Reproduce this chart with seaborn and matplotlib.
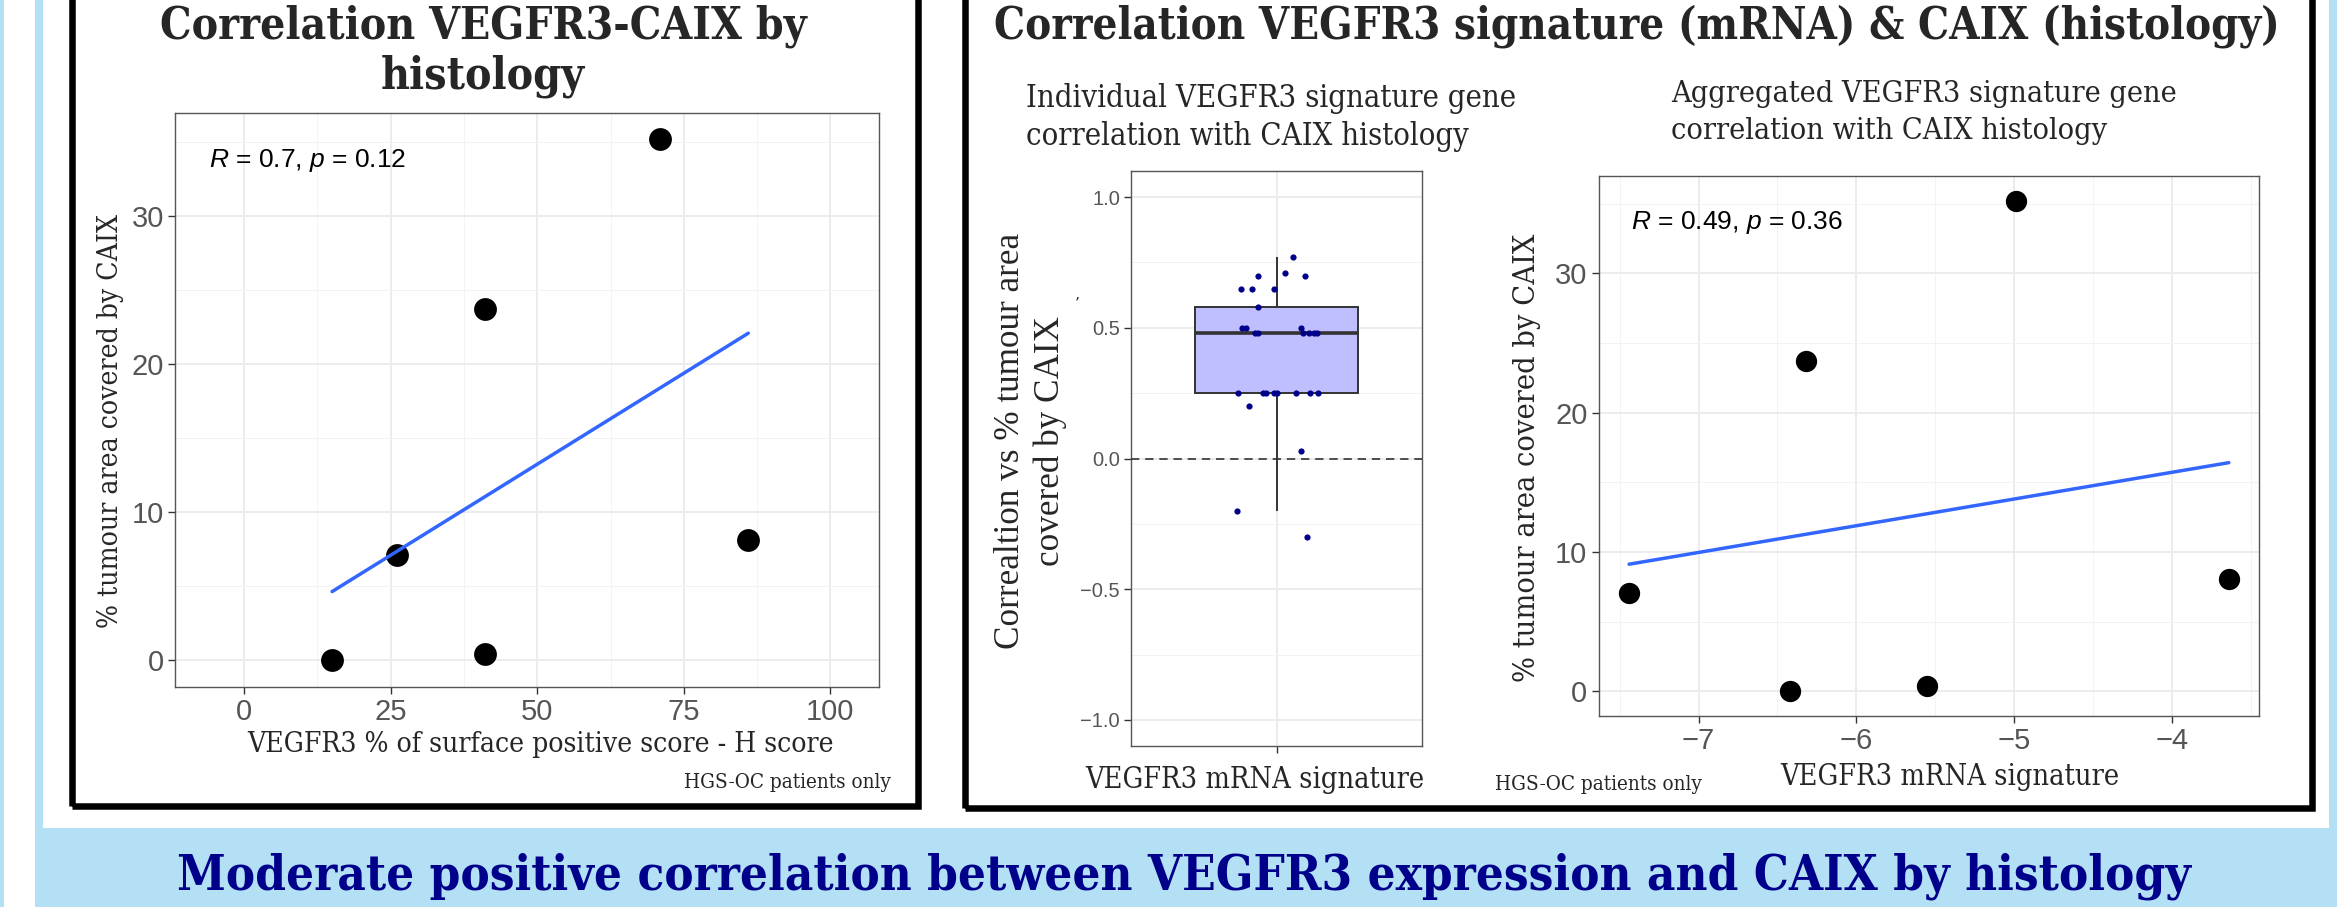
import numpy as np
import pandas as pd
import matplotlib
matplotlib.use("Agg")
import matplotlib.pyplot as plt
from matplotlib.patches import Rectangle
from matplotlib.ticker import FixedLocator
import seaborn as sns

# ---------------- data ----------------
h_score = [15, 26, 41, 41, 71, 86]
caix_area = [0.0, 7.1, 23.7, 0.4, 35.2, 8.1]
mrna_signature = [-6.42, -7.44, -6.32, -5.55, -4.99, -3.64]

gene_corr = [0.77, 0.71, 0.70, 0.70, 0.65, 0.65, 0.65, 0.58, 0.50, 0.50,
             0.48, 0.48, 0.50, 0.48, 0.48, 0.48, 0.48, 0.25, 0.25, 0.25,
             0.25, 0.25, 0.25, 0.25, 0.25, 0.20, 0.03, -0.20, -0.30]
gene_jitter = [0.066, 0.035, -0.078, 0.118, -0.146, -0.103, -0.010, -0.078,
               -0.144, -0.125, -0.088, -0.077, 0.103, 0.110, 0.136, 0.153,
               0.169, -0.158, -0.054, -0.042, -0.010, 0.004, 0.081, 0.139,
               0.172, -0.112, 0.100, -0.161, 0.127]

left_xticks = [0, 25, 50, 75, 100]
right_xticks = [-7, -6, -5, -4]
caix_yticks = [0, 10, 20, 30]
corr_yticks = [-1.0, -0.5, 0.0, 0.5, 1.0]

title_left = ["Correlation VEGFR3-CAIX by", "histology"]
title_right = "Correlation VEGFR3 signature (mRNA) & CAIX (histology)"
sub_mid = ["Individual VEGFR3 signature gene", "correlation with CAIX histology"]
sub_right = ["Aggregated VEGFR3 signature gene", "correlation with CAIX histology"]
xlab_left = "VEGFR3 % of surface positive score - H score"
ylab_caix = "% tumour area covered by CAIX"
xlab_sig = "VEGFR3 mRNA signature"
ylab_mid = ["Correaltion vs % tumour area", "covered by CAIX"]
stat_left = r"$R$ = 0.7, $p$ = 0.12"
stat_right = r"$R$ = 0.49, $p$ = 0.36"
note = "HGS-OC patients only"
conclusion = "Moderate positive correlation between VEGFR3 expression and CAIX by histology"

# ---------------- style ----------------
sns.set_theme(style="white")
plt.rcParams["font.family"] = ["Liberation Sans", "DejaVu Sans"]
plt.rcParams["mathtext.fontset"] = "custom"
plt.rcParams["mathtext.rm"] = "Liberation Sans"
plt.rcParams["mathtext.it"] = "Liberation Sans:italic"

W, H, DPI = 2345, 907, 100
LIGHT_BLUE = "#B3E0F5"
NAVY = "#00008B"
fig = plt.figure(figsize=(W / DPI, H / DPI), dpi=DPI, facecolor="white")
renderer = fig.canvas.get_renderer()


def axes_px(l, t, r, b):
    return fig.add_axes([l / W, 1 - b / H, (r - l) / W, (b - t) / H])


def rect_px(x0, y0, x1, y1, **kw):
    fig.add_artist(Rectangle((x0 / W, 1 - y1 / H), (x1 - x0) / W, (y1 - y0) / H,
                             transform=fig.transFigure, **kw))


def ftext(x, y, s, width=None, size=20, rot=0, **kw):
    t = fig.text(x / W, 1 - y / H, s, fontsize=size, rotation=rot, **kw)
    if width is not None:
        bb = t.get_window_extent(renderer)
        cur = bb.height if rot == 90 else bb.width
        t.set_fontsize(size * width / cur)
    return t


# ---------------- background frame ----------------
rect_px(0, 0, 4, H, color=LIGHT_BLUE, lw=0)
rect_px(35, 0, 43, 828, color=LIGHT_BLUE, lw=0)
rect_px(2329, 0, 2337, 828, color=LIGHT_BLUE, lw=0)
rect_px(35, 828, 2337, H, color=LIGHT_BLUE, lw=0)
rect_px(72, -20, 917.5, 806, fill=False, ec="black", lw=6.5 * 0.72)
rect_px(964.5, -20, 2312, 808, fill=False, ec="black", lw=6.5 * 0.72)


def style_axes(ax, tick_size):
    ax.set_facecolor("white")
    for sp in ax.spines.values():
        sp.set_visible(True)
        sp.set_color("#555555")
        sp.set_linewidth(1.0)
    ax.grid(which="major", color="#EBEBEB", lw=1.3)
    ax.grid(which="minor", color="#F3F3F3", lw=0.7)
    ax.set_axisbelow(True)
    ax.tick_params(which="major", length=5, width=1, color="#333333",
                   labelsize=tick_size, labelcolor="#555555", pad=3,
                   bottom=True, left=True)
    ax.tick_params(which="minor", length=0)
    ax.set_xlabel("")
    ax.set_ylabel("")


# ---------------- left scatter ----------------
axL = axes_px(175, 112.5, 879, 686.5)
sns.scatterplot(x=h_score, y=caix_area, ax=axL, color="black", s=270,
                linewidth=0, zorder=3)
sns.regplot(x=h_score, y=caix_area, ax=axL, scatter=False, ci=None,
            color="#3366FF", line_kws=dict(lw=2.5, zorder=4), truncate=True)
axL.set_xlim(-11.8, 108.3)
axL.set_ylim(-1.76, 36.96)
axL.set_xticks(left_xticks)
axL.set_yticks(caix_yticks)
axL.xaxis.set_minor_locator(FixedLocator([12.5, 37.5, 62.5, 87.5]))
axL.yaxis.set_minor_locator(FixedLocator([5, 15, 25, 35]))
style_axes(axL, 21)

# ---------------- middle boxplot ----------------
axM = axes_px(1131, 171, 1422, 746)
sns.boxplot(y=gene_corr, ax=axM, width=0.672, color="#BFBFFF", saturation=1,
            linecolor="#333333", linewidth=1.4, showfliers=False, showcaps=False,
            medianprops=dict(lw=2.6, color="#333333"))
sns.scatterplot(x=gene_jitter, y=gene_corr, ax=axM, color=NAVY, s=20,
                linewidth=0, zorder=5)
axM.axhline(0, color="#333333", lw=1.2, ls=(0, (5, 3.5)), zorder=4)
axM.set_xlim(-0.6, 0.6)
axM.set_ylim(-1.1, 1.1)
axM.set_xticks([0])
axM.set_xticklabels([""])
axM.set_yticks(corr_yticks)
axM.yaxis.set_minor_locator(FixedLocator([-0.75, -0.25, 0.25, 0.75]))
style_axes(axM, 14.5)

# ---------------- right scatter ----------------
axR = axes_px(1598.6, 176.4, 2258.8, 716)
sns.scatterplot(x=mrna_signature, y=caix_area, ax=axR, color="black", s=235,
                linewidth=0, zorder=3)
sns.regplot(x=mrna_signature, y=caix_area, ax=axR, scatter=False, ci=None,
            color="#3366FF", line_kws=dict(lw=2.5, zorder=4), truncate=True)
axR.set_xlim(-7.633, -3.450)
axR.set_ylim(-1.76, 36.96)
axR.set_xticks(right_xticks)
axR.set_yticks(caix_yticks)
axR.xaxis.set_minor_locator(FixedLocator([-7.5, -6.5, -5.5, -4.5, -3.5]))
axR.yaxis.set_minor_locator(FixedLocator([5, 15, 25, 35]))
style_axes(axR, 21)

# ---------------- texts ----------------
SERIF = dict(family="DejaVu Serif", stretch="condensed")
t1 = ftext(483, 39, title_left[0], width=648, size=27, **SERIF,
           weight="bold", ha="center", va="baseline")
ftext(483, 88, title_left[1], size=t1.get_fontsize(), **SERIF,
      weight="bold", ha="center", va="baseline")
ftext(1636.5, 39, title_right, width=1287, size=27, **SERIF,
      weight="bold", ha="center", va="baseline")

s1 = ftext(1026.5, 107, sub_mid[0], width=491, size=20, **SERIF,
           ha="left", va="baseline")
ftext(1026.5, 144.6, sub_mid[1], size=s1.get_fontsize(), **SERIF,
      ha="left", va="baseline")
s2 = ftext(1671.4, 102.4, sub_right[0], width=505, size=20, **SERIF,
           ha="left", va="baseline")
ftext(1671.4, 138.8, sub_right[1], size=s2.get_fontsize(), **SERIF,
      ha="left", va="baseline")

ftext(209, 166.6, stat_left, size=19, ha="left", va="baseline", color="black")
ftext(1630.6, 228.5, stat_right, size=19, ha="left", va="baseline", color="black")

ftext(541, 752, xlab_left, width=586, size=20, **SERIF,
      ha="center", va="baseline")
ftext(111, 421, ylab_caix, width=413, size=20, rot=90, **SERIF,
      ha="center", va="center")
ftext(1255, 787.7, xlab_sig, width=338, size=20, **SERIF,
      ha="center", va="baseline")
m1 = ftext(1010.7, 441, ylab_mid[0], width=414, size=22, rot=90,
           family="Liberation Serif", ha="center", va="center")
ftext(1050, 441, ylab_mid[1], size=m1.get_fontsize(), rot=90,
      family="Liberation Serif", ha="center", va="center")
ftext(1077, 303, "\u2019", size=11, family="DejaVu Serif", ha="center", va="center")
ftext(1950, 785, xlab_sig, width=339, size=20, **SERIF,
      ha="center", va="baseline")
ftext(1527, 458, ylab_caix, width=448, size=20, rot=90, **SERIF,
      ha="center", va="center")

ftext(891, 788, note, width=208, size=12, **SERIF, ha="right", va="baseline")
ftext(1495, 789.5, note, width=208, size=12, **SERIF, ha="left", va="baseline")

ftext(177, 890, conclusion, width=2017, size=32, **SERIF, weight="bold",
      color=NAVY, ha="left", va="baseline")

fig.savefig("out.png", dpi=DPI, facecolor="white")
